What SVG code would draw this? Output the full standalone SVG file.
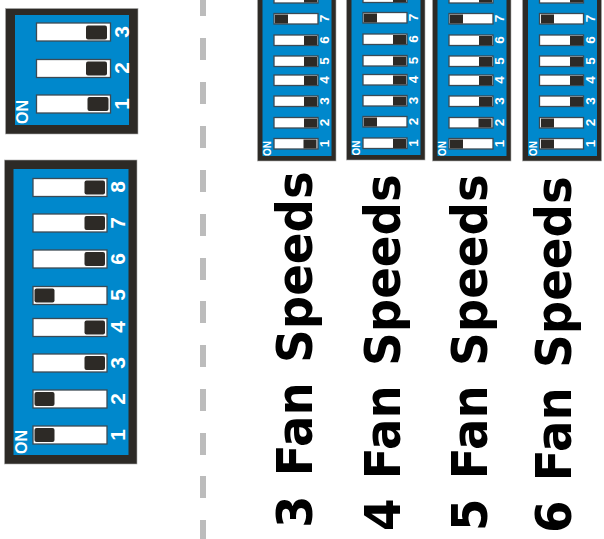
<svg xmlns="http://www.w3.org/2000/svg" width="604" height="539" viewBox="0 0 604 539">
<style>
.o{fill:#2d2a26;stroke:#aaa;stroke-width:.6}
.b{fill:#0088cc}
.s{fill:#fff;stroke:#3c4a54;stroke-width:1.3}
.k{fill:#2d2a26}
text{font-family:"Liberation Sans",Arial,sans-serif;font-weight:700;fill:#fff;text-anchor:middle}
.d{font-size:21px}
.n{font-size:16px}
.ds{font-size:13.5px}
.ns{font-size:10px}
.t{font-family:"DejaVu Sans",sans-serif;font-size:50px;fill:#000;text-anchor:start;word-spacing:3.2px}
.dash{fill:#bcbcbc}
</style>
<g id="divider" class="dash">
<rect x="200" y="0" width="6" height="16"/><rect x="200" y="38" width="6" height="22"/><rect x="200" y="82" width="6" height="22"/><rect x="200" y="126" width="6" height="22"/><rect x="200" y="170" width="6" height="22"/><rect x="200" y="214" width="6" height="22"/><rect x="200" y="258" width="6" height="22"/><rect x="200" y="301" width="6" height="22"/><rect x="200" y="345" width="6" height="22"/><rect x="200" y="389" width="6" height="22"/><rect x="200" y="433" width="6" height="22"/><rect x="200" y="476" width="6" height="22"/><rect x="200" y="520" width="6" height="19"/>
</g>
<g id="dip3">
<rect class="o" x="5.5" y="8.5" width="132.5" height="125.5"/><rect class="b" x="15" y="15" width="114" height="110"/>
<rect class="s" x="36.5" y="23" width="74" height="18"/><rect class="k" x="86" y="25.500" width="21" height="14" rx="2"/>
<rect class="s" x="36.500" y="59.500" width="74" height="18"/><rect class="k" x="86" y="61.500" width="21" height="14" rx="2"/>
<rect class="s" x="36.500" y="95" width="74" height="18"/><rect class="k" x="87.500" y="97" width="21" height="14" rx="2"/>
<text class="d" transform="translate(129,32) rotate(-90)">3</text><text class="d" transform="translate(129,68) rotate(-90)">2</text><text class="d" transform="translate(129,104) rotate(-90)">1</text>
<text class="n" transform="translate(28,112) rotate(-90)">ON</text>
</g>
<g id="dip8">
<rect class="o" x="4.500" y="160" width="132.500" height="304"/><rect class="b" x="13.500" y="169" width="115" height="286"/>
<rect class="s" x="33" y="178.500" width="74" height="18"/><rect class="k" x="84.500" y="180.500" width="20.500" height="14" rx="2"/>
<rect class="s" x="33" y="214" width="74" height="18"/><rect class="k" x="84.500" y="216" width="20.500" height="14" rx="2"/>
<rect class="s" x="33" y="250" width="74" height="18"/><rect class="k" x="84.500" y="252" width="20.500" height="14" rx="2"/>
<rect class="s" x="33" y="286.500" width="74" height="18"/><rect class="k" x="34.500" y="288.500" width="20" height="14" rx="2"/>
<rect class="s" x="33" y="318.500" width="74" height="18"/><rect class="k" x="84.500" y="320.500" width="20.500" height="14" rx="2"/>
<rect class="s" x="33" y="354" width="74" height="18"/><rect class="k" x="84.500" y="356" width="20.500" height="14" rx="2"/>
<rect class="s" x="33" y="390" width="74" height="18"/><rect class="k" x="34.500" y="392" width="20" height="14" rx="2"/>
<rect class="s" x="33" y="426" width="74" height="18"/><rect class="k" x="34.500" y="428" width="20" height="14" rx="2"/>
<text class="d" transform="translate(125,187) rotate(-90)">8</text><text class="d" transform="translate(125,223) rotate(-90)">7</text><text class="d" transform="translate(125,259) rotate(-90)">6</text><text class="d" transform="translate(125,295) rotate(-90)">5</text><text class="d" transform="translate(125,327) rotate(-90)">4</text><text class="d" transform="translate(125,363) rotate(-90)">3</text><text class="d" transform="translate(125,399) rotate(-90)">2</text><text class="d" transform="translate(125,435) rotate(-90)">1</text>
<text class="n" transform="translate(27,442) rotate(-90)">ON</text>
</g>
<g id="fan3">
<rect class="o" x="257.500" y="-10" width="78.500" height="171"/><rect class="b" x="262.500" y="-10" width="69" height="166"/>
<rect class="s" x="274" y="-8" width="44" height="11"/><rect class="k" x="304" y="-6" width="13" height="8.500"/>
<rect class="s" x="274" y="13.500" width="44" height="10.500"/><rect class="k" x="275" y="14.500" width="13" height="9"/>
<rect class="s" x="274" y="35" width="44" height="10.500"/><rect class="k" x="304" y="36" width="13" height="9"/>
<rect class="s" x="274" y="56" width="44" height="10.500"/><rect class="k" x="304" y="57" width="13" height="9"/>
<rect class="s" x="274" y="75" width="44" height="10.500"/><rect class="k" x="304" y="76" width="13" height="9"/>
<rect class="s" x="274" y="96" width="44" height="10.500"/><rect class="k" x="304" y="97" width="13" height="9"/>
<rect class="s" x="274" y="117.500" width="44" height="10.500"/><rect class="k" x="304" y="118.500" width="13" height="9"/>
<rect class="s" x="274" y="138.500" width="44" height="10.500"/><rect class="k" x="303.500" y="139.500" width="13" height="9"/>
<text class="ds" transform="translate(329,18.500) rotate(-90)">7</text><text class="ds" transform="translate(329,40) rotate(-90)">6</text><text class="ds" transform="translate(329,61) rotate(-90)">5</text><text class="ds" transform="translate(329,80) rotate(-90)">4</text><text class="ds" transform="translate(329,101) rotate(-90)">3</text><text class="ds" transform="translate(329,122.500) rotate(-90)">2</text><text class="ds" transform="translate(329,143.500) rotate(-90)">1</text>
<text class="ns" transform="translate(271,148.500) rotate(-90)">ON</text>
</g>
<g id="fan4">
<rect class="o" x="346.500" y="-10" width="78.500" height="170"/><rect class="b" x="351.500" y="-10" width="69" height="165"/>
<rect class="s" x="363" y="-8" width="44" height="10.500"/><rect class="k" x="393" y="-6" width="13" height="8"/>
<rect class="s" x="363" y="12.500" width="44" height="10.500"/><rect class="k" x="364" y="13.500" width="13" height="9"/>
<rect class="s" x="363" y="34" width="44" height="10.500"/><rect class="k" x="393" y="35" width="13" height="9"/>
<rect class="s" x="363" y="55.500" width="44" height="10.500"/><rect class="k" x="393" y="56.500" width="13" height="9"/>
<rect class="s" x="363" y="74.500" width="44" height="10.500"/><rect class="k" x="393" y="75.500" width="13" height="9"/>
<rect class="s" x="363" y="95.500" width="44" height="10.500"/><rect class="k" x="393" y="96.500" width="13" height="9"/>
<rect class="s" x="363" y="116.500" width="44" height="10.500"/><rect class="k" x="364" y="117.500" width="13" height="9"/>
<rect class="s" x="363" y="138" width="44" height="10.500"/><rect class="k" x="393" y="139" width="13" height="9"/>
<text class="ds" transform="translate(418,17.500) rotate(-90)">7</text><text class="ds" transform="translate(418,39) rotate(-90)">6</text><text class="ds" transform="translate(418,60.500) rotate(-90)">5</text><text class="ds" transform="translate(418,79.500) rotate(-90)">4</text><text class="ds" transform="translate(418,100.500) rotate(-90)">3</text><text class="ds" transform="translate(418,121.500) rotate(-90)">2</text><text class="ds" transform="translate(418,143) rotate(-90)">1</text>
<text class="ns" transform="translate(360,148) rotate(-90)">ON</text>
</g>
<g id="fan5">
<rect class="o" x="432.500" y="-10" width="78.500" height="171"/><rect class="b" x="437.500" y="-10" width="69" height="166"/>
<rect class="s" x="449" y="-8" width="44" height="11"/><rect class="k" x="479" y="-6" width="13" height="8.500"/>
<rect class="s" x="449" y="13.500" width="44" height="10.500"/><rect class="k" x="450" y="14.500" width="13" height="9"/>
<rect class="s" x="449" y="35" width="44" height="10.500"/><rect class="k" x="479" y="36" width="13" height="9"/>
<rect class="s" x="449" y="56" width="44" height="10.500"/><rect class="k" x="479" y="57" width="13" height="9"/>
<rect class="s" x="449" y="75" width="44" height="10.500"/><rect class="k" x="479" y="76" width="13" height="9"/>
<rect class="s" x="449" y="96" width="44" height="10.500"/><rect class="k" x="479" y="97" width="13" height="9"/>
<rect class="s" x="449" y="117.500" width="44" height="10.500"/><rect class="k" x="478.500" y="118.500" width="13" height="9"/>
<rect class="s" x="449" y="138.500" width="44" height="10.500"/><rect class="k" x="450" y="139.500" width="13" height="9"/>
<text class="ds" transform="translate(504,18.500) rotate(-90)">7</text><text class="ds" transform="translate(504,40) rotate(-90)">6</text><text class="ds" transform="translate(504,61) rotate(-90)">5</text><text class="ds" transform="translate(504,80) rotate(-90)">4</text><text class="ds" transform="translate(504,101) rotate(-90)">3</text><text class="ds" transform="translate(504,122.500) rotate(-90)">2</text><text class="ds" transform="translate(504,143.500) rotate(-90)">1</text>
<text class="ns" transform="translate(446,148.500) rotate(-90)">ON</text>
</g>
<g id="fan6">
<rect class="o" x="522.500" y="-10" width="79" height="171"/><rect class="b" x="528" y="-10" width="69" height="166"/>
<rect class="s" x="539.500" y="-8" width="44" height="11"/><rect class="k" x="570" y="-6" width="13" height="8.500"/>
<rect class="s" x="539.500" y="13.500" width="44" height="10.500"/><rect class="k" x="541" y="14.500" width="13" height="9"/>
<rect class="s" x="539.500" y="35" width="44" height="10.500"/><rect class="k" x="570" y="36" width="13" height="9"/>
<rect class="s" x="539.500" y="56" width="44" height="10.500"/><rect class="k" x="570" y="57" width="13" height="9"/>
<rect class="s" x="539.500" y="75" width="44" height="10.500"/><rect class="k" x="570" y="76" width="13" height="9"/>
<rect class="s" x="539.500" y="96" width="44" height="10.500"/><rect class="k" x="570" y="97" width="13" height="9"/>
<rect class="s" x="539.500" y="117.500" width="44" height="10.500"/><rect class="k" x="541" y="118.500" width="13" height="9"/>
<rect class="s" x="539.500" y="138.500" width="44" height="10.500"/><rect class="k" x="541" y="139.500" width="13" height="9"/>
<text class="ds" transform="translate(594.500,18.500) rotate(-90)">7</text><text class="ds" transform="translate(594.500,40) rotate(-90)">6</text><text class="ds" transform="translate(594.500,61) rotate(-90)">5</text><text class="ds" transform="translate(594.500,80) rotate(-90)">4</text><text class="ds" transform="translate(594.500,101) rotate(-90)">3</text><text class="ds" transform="translate(594.500,122.500) rotate(-90)">2</text><text class="ds" transform="translate(594.500,143.500) rotate(-90)">1</text>
<text class="ns" transform="translate(537,148.500) rotate(-90)">ON</text>
</g>
<g id="labels">
<text class="t" transform="translate(312,528) rotate(-90) scale(.935,1)">3 Fan Speeds</text>
<text class="t" transform="translate(400,531) rotate(-90) scale(.935,1)">4 Fan Speeds</text>
<text class="t" transform="translate(487,531) rotate(-90) scale(.935,1)">5 Fan Speeds</text>
<text class="t" transform="translate(571,533) rotate(-90) scale(.935,1)">6 Fan Speeds</text>
</g>
</svg>
